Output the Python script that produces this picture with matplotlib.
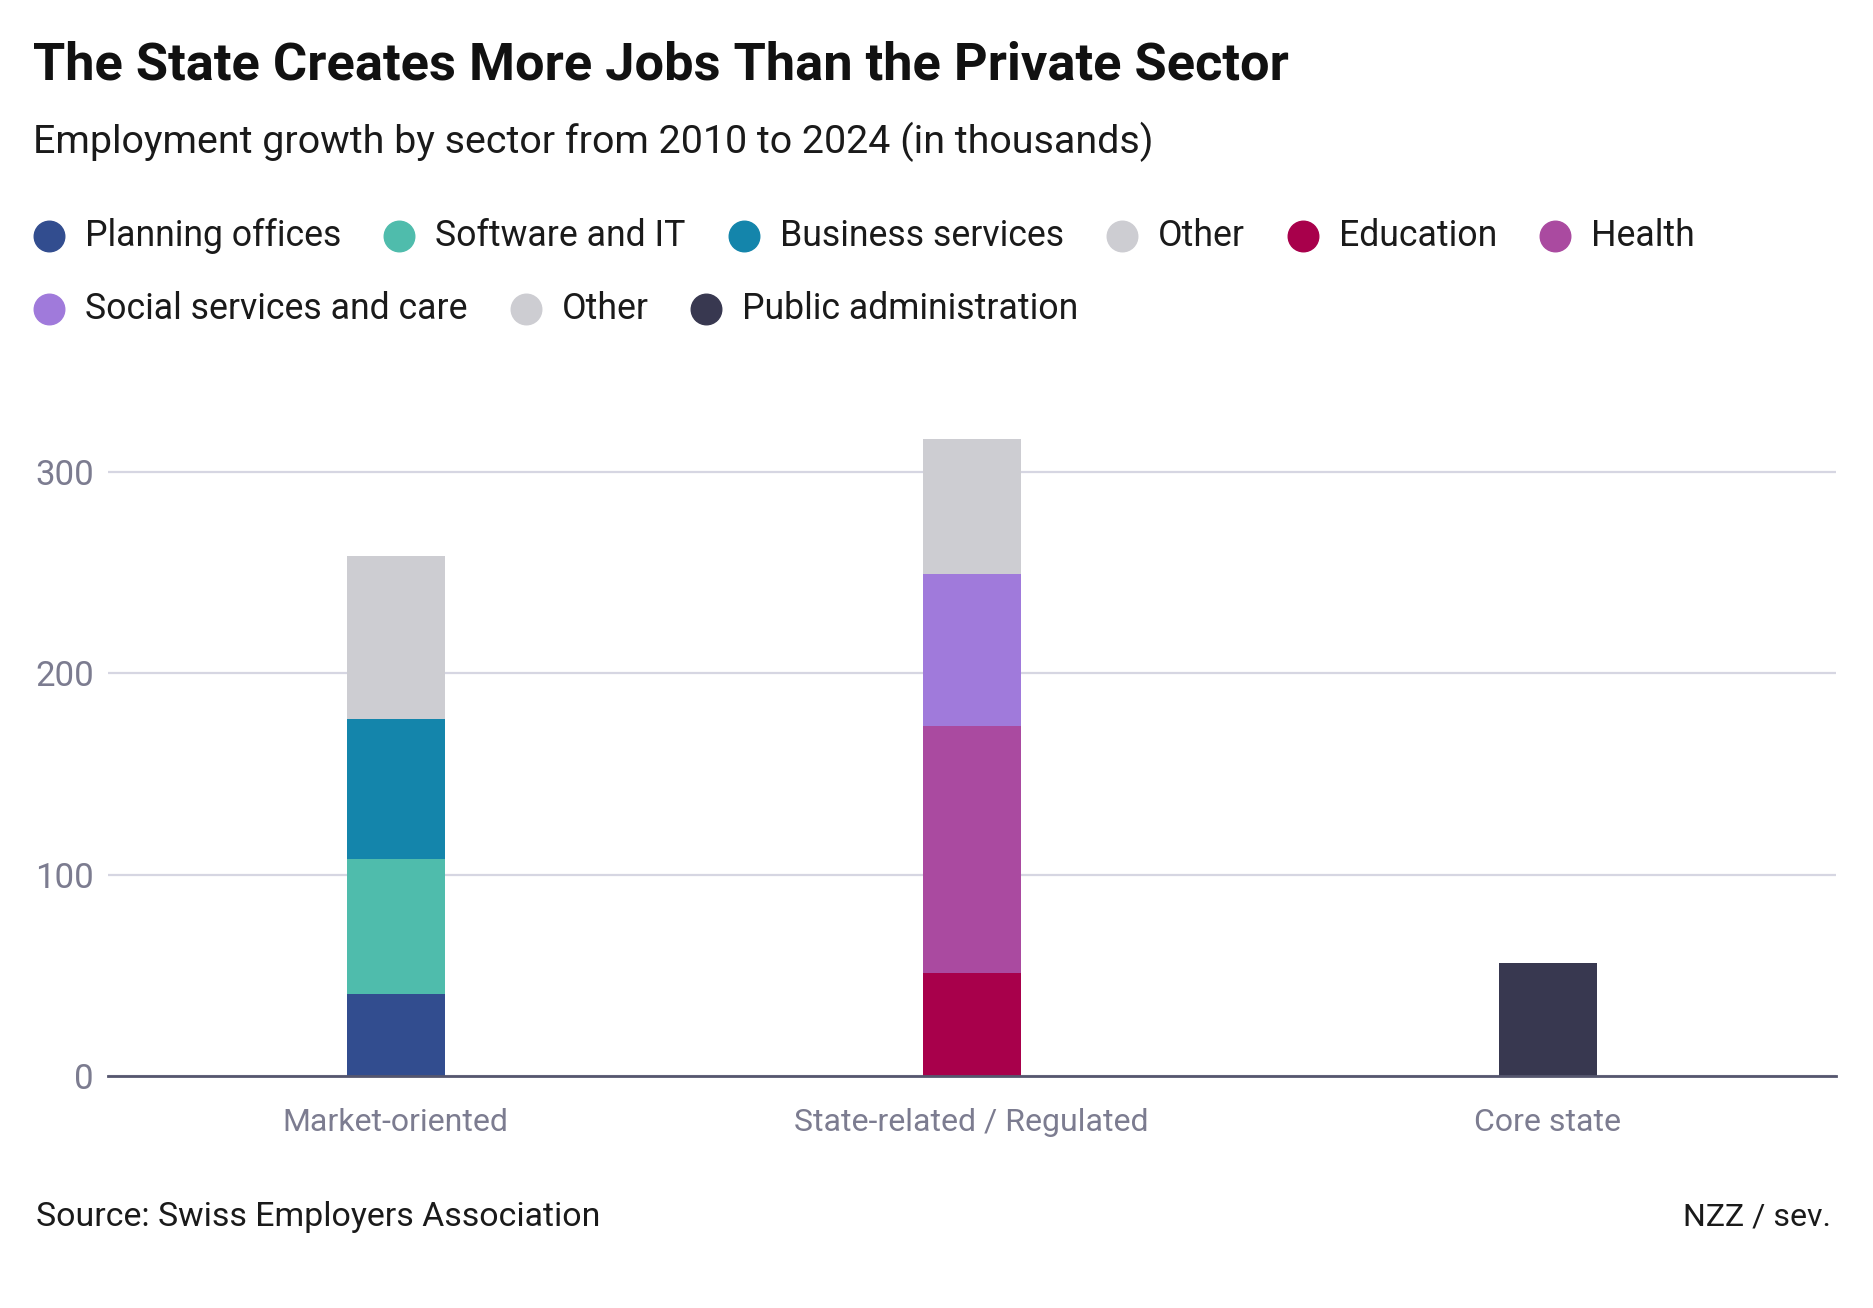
import matplotlib
matplotlib.use("Agg")
import matplotlib.pyplot as plt
from matplotlib.lines import Line2D
import numpy as np

plt.rcParams['font.family'] = ['Roboto', 'DejaVu Sans']

# data (thousands, 2010-2024)
groups = ["Market-oriented", "State-related / Regulated", "Core state"]
segments = ["Planning offices", "Software and IT", "Business services", "Other",
            "Education", "Health", "Social services and care", "Other",
            "Public administration"]
seg_group = [0, 0, 0, 0, 1, 1, 1, 1, 2]
seg_values = [41, 67, 69, 81, 51, 123, 75, 67, 56]
seg_colors = ["#324d8f", "#4fbcac", "#1485ab", "#cdcdd2",
              "#a8004b", "#aa4aa0", "#a07adb", "#cdcdd2", "#383850"]
yticks = [0, 100, 200, 300]

W, H = 1874, 1308
fig = plt.figure(figsize=(W / 100, H / 100), dpi=100)
fig.patch.set_facecolor("white")
ax = fig.add_axes([107.6 / W, 1 - 1076.3 / H, 1728.2 / W, 330 * 2.016 / H])

bottoms = np.zeros(len(groups))
for g, v, c in zip(seg_group, seg_values, seg_colors):
    ax.bar(g, v, width=0.17, bottom=bottoms[g], color=c, zorder=3)
    bottoms[g] += v

ax.set_xlim(-0.5, 2.5)
ax.set_ylim(0, 330)
ax.set_yticks(yticks)
ax.set_yticklabels([str(t) for t in yticks])
ax.set_xticks(range(len(groups)))
ax.set_xticklabels(groups)
ax.tick_params(axis="y", length=0, pad=10, labelsize=25, labelcolor="#7c7c90")
ax.tick_params(axis="x", length=0, pad=23, labelsize=23, labelcolor="#7c7c90")
ax.grid(axis="y", color="#d6d6e2", linewidth=1.6, zorder=0)
for s in ["top", "right", "left"]:
    ax.spines[s].set_visible(False)
ax.spines["bottom"].set_color("#55566e")
ax.spines["bottom"].set_linewidth(2)
ax.spines["bottom"].set_zorder(4)

fig.text(33 / W, 1 - 65 / H, "The State Creates More Jobs Than the Private Sector",
         fontsize=37.7, fontweight="bold", va="center", ha="left", color="#111111")
fig.text(33 / W, 1 - 142 / H, "Employment growth by sector from 2010 to 2024 (in thousands)",
         fontsize=28.4, va="center", ha="left", color="#1a1a1a")

# legend, laid out in two rows
fig.canvas.draw()
renderer = fig.canvas.get_renderer()
rows = [[0, 1, 2, 3, 4, 5], [6, 7, 8]]
row_y = [236, 309]
for row, yy in zip(rows, row_y):
    x = 49
    for i in row:
        fig.add_artist(Line2D([x / W], [1 - yy / H], marker="o", markersize=22,
                              color=seg_colors[i], transform=fig.transFigure,
                              linestyle="none"))
        t = fig.text((x + 36) / W, 1 - yy / H, segments[i], fontsize=25.7,
                     va="center", ha="left", color="#1a1a1a")
        bb = t.get_window_extent(renderer)
        x = x + 36 + bb.width + 58

fig.text(36 / W, 1 - 1217 / H, "Source: Swiss Employers Association",
         fontsize=24.4, va="center", ha="left", color="#1a1a1a")
fig.text(1831 / W, 1 - 1217 / H, "NZZ / sev.",
         fontsize=23, va="center", ha="right", color="#1a1a1a")

fig.savefig("out.png", dpi=100)
